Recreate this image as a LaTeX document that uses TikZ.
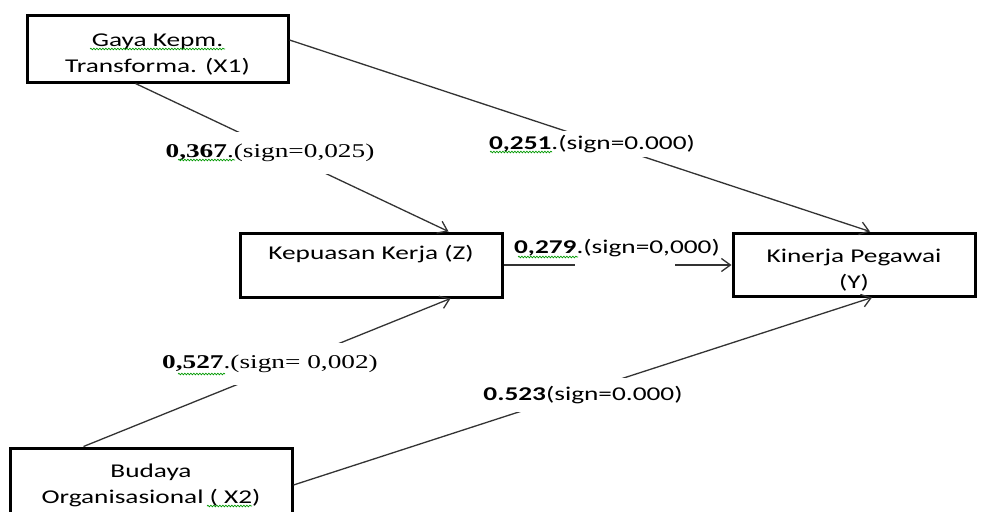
\documentclass[tikz,border=0pt]{standalone}
\usepackage{fontspec}
\setmainfont{Carlito}[FakeStretch=1.4]
\newfontfamily\tnr{Liberation Serif}[FakeStretch=1.4]
\usetikzlibrary{arrows.meta,decorations.pathmorphing}
\begin{document}
\begin{tikzpicture}[x=1pt,y=-1pt,
  box/.style={draw=black,line width=3pt,rectangle,align=center,font=\fontsize{19.5}{26}\selectfont,inner sep=0pt},
  conn/.style={draw=black!80,line width=1.3pt,-{Straight Barb[length=9pt,width=13pt,line width=1.3pt]}},
  lab/.style={font=\fontsize{19.5}{26}\selectfont,inner xsep=2pt,inner ysep=4pt},
  tlab/.style={font=\tnr\fontsize{19.5}{26}\selectfont,inner xsep=2pt,inner ysep=12pt},
  squig/.style={draw=green!60!black,line width=0.7pt,decorate,decoration={snake,amplitude=0.8pt,segment length=3pt}}]
\useasboundingbox (0,0) rectangle (984,511);
\clip (0,0) rectangle (984,511);
\fill[white] (0,0) rectangle (984,511);

\node[box,minimum width=261pt,minimum height=66pt] (X1) at (157.5,49) {\rule{0pt}{24pt}Gaya Kepm.\\Transforma. (X1)};
\node[box,minimum width=262pt,minimum height=64pt] (Z) at (371,265) {Kepuasan Kerja (Z)\\\mbox{}};
\node[box,minimum width=242pt,minimum height=63pt] (Y) at (854,264.5) {\rule{0pt}{24pt}Kinerja Pegawai\\(Y)};
\node[box,minimum width=282pt,minimum height=74pt] (X2) at (151,485) {Budaya\\Organisasional ( X2)};

\draw[conn] ([xshift=110pt]X1.south west) -- ([xshift=210pt]Z.north west);
\draw[conn] ([yshift=9pt]X1.east) -- ([xshift=16pt]Y.north);
\draw[conn] (Z.east) -- (Z.east -| Y.west);
\draw[conn] ([xshift=75pt]X2.north west) -- ([xshift=212pt]Z.south west);
\draw[conn] (X2.east) -- ([xshift=18pt]Y.south);

\node[tlab,fill=white] (L1) at (270,153) {\textbf{0,367}.(sign=0,025)};
\node[lab,fill=white] (L2) at (592,144) {\textbf{0,251}.(sign=0.000)};
\fill[white] (575,259) rectangle (675,267);
\node[lab] (L3) at (617,248) {\textbf{0,279}.(sign=0,000)};
\node[tlab,fill=white] (L4) at (270,364) {\textbf{0,527}.(sign= 0,002)};
\node[lab,fill=white,inner ysep=8pt] (L5) at (583,395) {\textbf{0.523}(sign=0.000)};

\draw[squig] (90,49) -- (225,49);
\draw[squig] (178,160) -- (235,160);
\draw[squig] (490,152) -- (552,152);
\draw[squig] (518,257) -- (578,257);
\draw[squig] (178,374) -- (225,374);
\draw[squig] (207,506) -- (252,506);
\end{tikzpicture}
\end{document}
